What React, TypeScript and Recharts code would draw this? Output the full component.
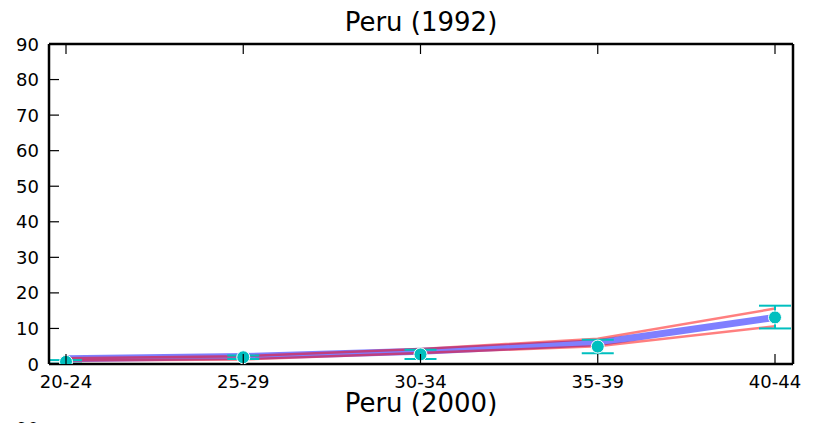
import React from 'react';
import { LineChart, Line, XAxis, YAxis, ErrorBar, Customized } from 'recharts';

const ageGroups = ['20-24', '25-29', '30-34', '35-39', '40-44'];
const modelMean = [1.5, 2.1, 3.6, 6.0, 13.1];
const modelUpper = [1.6, 2.2, 4.2, 7.1, 15.6];
const modelLower = [1.0, 1.3, 3.1, 5.0, 10.6];
const observed = [0.6, 1.9, 2.7, 4.9, 13.1];
const observedErrLow = [0.5, 0.5, 1.3, 1.9, 3.1];
const observedErrHigh = [0.5, 0.5, 1.3, 1.9, 3.3];
const yTicks = [0, 10, 20, 30, 40, 50, 60, 70, 80, 90];

const data = ageGroups.map((age, i) => ({
  age,
  mean: modelMean[i],
  upper: modelUpper[i],
  lower: modelLower[i],
  obs: observed[i],
  obsErr: [observedErrLow[i], observedErrHigh[i]],
}));

const W = 818;
const H = 423;
const TICK = 10;
const FONT = 18;

const Titles = () => (
  <g>
    <text x={421} y={31} textAnchor="middle" fontSize={26} fill="#000">
      Peru (1992)
    </text>
    <text x={421} y={412} textAnchor="middle" fontSize={26} fill="#000">
      Peru (2000)
    </text>
    <text x={39} y={435} textAnchor="end" fontSize={FONT} fill="#000">
      90
    </text>
  </g>
);

// matplotlib-style inward ticks, drawn by each axis' own tick renderer
const BottomTick = (props: any) => {
  const { x, y, payload } = props;
  const axisY = y - 13;
  return (
    <g>
      <line x1={x} x2={x} y1={axisY} y2={axisY - TICK} stroke="#000" strokeWidth={1.2} />
      <text x={x} y={axisY + 24} textAnchor="middle" fontSize={FONT} fill="#000">
        {payload.value}
      </text>
    </g>
  );
};

const TopTick = (props: any) => {
  const { x, y } = props;
  return <line x1={x} x2={x} y1={y} y2={y + TICK} stroke="#000" strokeWidth={1.2} />;
};

const LeftTick = (props: any) => {
  const { x, y, payload } = props;
  const axisX = x + 10;
  return (
    <g>
      <line x1={axisX} x2={axisX + TICK} y1={y} y2={y} stroke="#000" strokeWidth={1.2} />
      <text x={x} y={y + 6.5} textAnchor="end" fontSize={FONT} fill="#000">
        {payload.value}
      </text>
    </g>
  );
};

const RightTick = (props: any) => {
  const { x, y } = props;
  return <line x1={x} x2={x - TICK} y1={y} y2={y} stroke="#000" strokeWidth={1.2} />;
};

const axisLine = { stroke: '#000', strokeWidth: 2.5 };

export default function App() {
  return (
    <div style={{ position: 'absolute', left: 0, top: 0, width: W, height: H, background: '#fff', fontFamily: 'DejaVu Sans' }}>
      <LineChart width={W} height={H} data={data} margin={{ top: 43, right: 24, bottom: 0, left: 9 }}>
        <XAxis
          dataKey="age"
          height={59}
          interval={0}
          padding={{ left: 17, right: 18 }}
          tickSize={0}
          tickMargin={13}
          axisLine={axisLine}
          tickLine={false}
          tick={<BottomTick />}
        />
        <XAxis
          xAxisId="top"
          dataKey="age"
          orientation="top"
          height={1}
          interval={0}
          padding={{ left: 17, right: 18 }}
          tickSize={0}
          tickMargin={0}
          axisLine={axisLine}
          tickLine={false}
          tick={<TopTick />}
        />
        <YAxis
          width={40}
          domain={[0, 90]}
          ticks={yTicks}
          allowDataOverflow
          tickSize={0}
          tickMargin={10}
          axisLine={axisLine}
          tickLine={false}
          tick={<LeftTick />}
        />
        <YAxis
          yAxisId="right"
          orientation="right"
          width={1}
          domain={[0, 90]}
          ticks={yTicks}
          tickSize={0}
          tickMargin={0}
          axisLine={axisLine}
          tickLine={false}
          tick={<RightTick />}
        />
        <Line dataKey="mean" stroke="#0000ff" strokeOpacity={0.5} strokeWidth={7} dot={false} isAnimationActive={false} />
        <Line dataKey="upper" stroke="#ff0000" strokeOpacity={0.5} strokeWidth={2.5} dot={false} isAnimationActive={false} />
        <Line dataKey="lower" stroke="#ff0000" strokeOpacity={0.5} strokeWidth={2.5} dot={false} isAnimationActive={false} />
        <Line
          dataKey="obs"
          stroke="none"
          dot={{ r: 6.5, fill: '#00bfbf', stroke: '#fff', strokeWidth: 1, fillOpacity: 1 }}
          isAnimationActive={false}
        >
          <ErrorBar dataKey="obsErr" direction="y" width={16} stroke="#00bfbf" strokeWidth={2} />
        </Line>
        <Customized component={Titles} />
      </LineChart>
    </div>
  );
}
